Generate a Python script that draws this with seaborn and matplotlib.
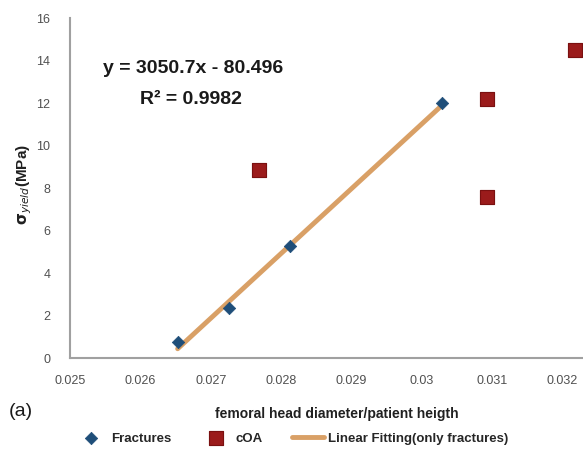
import matplotlib
matplotlib.use('Agg')
import matplotlib.pyplot as plt
import seaborn as sns
import numpy as np
import pandas as pd

# 데이터
frac_x = [0.02653, 0.02726, 0.02813, 0.03028]
frac_y = [0.75, 2.35, 5.27, 12.0]
coa_x = [0.02768, 0.03092, 0.03092, 0.03217]
coa_y = [8.85, 12.2, 7.6, 14.5]
fit_slope = 3050.7
fit_icpt = -80.496
x_ticks = [0.025, 0.026, 0.027, 0.028, 0.029, 0.03, 0.031, 0.032]
x_ticklabels = ['0.025', '0.026', '0.027', '0.028', '0.029', '0.03', '0.031', '0.032']
y_ticks = [0, 2, 4, 6, 8, 10, 12, 14, 16]

sns.set_style('white')
plt.rcParams['font.family'] = ['Liberation Sans', 'DejaVu Sans']

frac = pd.DataFrame({'x': frac_x, 'y': frac_y})
coa = pd.DataFrame({'x': coa_x, 'y': coa_y})
fx = np.array([min(frac_x), max(frac_x)])
fit = pd.DataFrame({'x': fx, 'y': fit_slope * fx + fit_icpt})

fig = plt.figure(figsize=(5.83, 4.55), dpi=100)
ax = fig.add_axes([0.12, 0.213, 0.88, 0.747])

sns.lineplot(data=fit, x='x', y='y', ax=ax, color='#d9a066', lw=3.5,
             label='Linear Fitting(only fractures)', zorder=2)
sns.scatterplot(data=frac, x='x', y='y', ax=ax, marker='D', s=40, color='#1f4e79',
                edgecolor='#1f4e79', label='Fractures', zorder=3)
sns.scatterplot(data=coa, x='x', y='y', ax=ax, marker='s', s=110, color='#9b1b1b',
                edgecolor='#7a1010', label='cOA', zorder=3)

ax.set_xlim(0.025, 0.03229)
ax.set_ylim(0, 16)
ax.set_xticks(x_ticks)
ax.set_xticklabels(x_ticklabels)
ax.set_yticks(y_ticks)
ax.tick_params(axis='both', labelsize=9, colors='#505050', length=0)
ax.tick_params(axis='x', pad=12)
ax.tick_params(axis='y', pad=14)

for s in ['top', 'right']:
    ax.spines[s].set_visible(False)
for s in ['left', 'bottom']:
    ax.spines[s].set_color('#a0a0a0')
    ax.spines[s].set_linewidth(1.5)

ax.set_xlabel('femoral head diameter/patient heigth', fontsize=10, fontweight='bold',
              color='#202020')
ax.xaxis.set_label_coords(0.52, -0.145)
ax.set_ylabel(r'$\mathbf{\sigma}_{yield}$(MPa)', fontsize=11, fontweight='bold', color='#202020')
ax.yaxis.set_label_coords(-0.07, 0.51)

ax.text(0.24, 0.853, 'y = 3050.7x - 80.496', transform=ax.transAxes, ha='center',
        va='center', fontsize=14, fontweight='bold', color='#1a1a1a')
ax.text(0.235, 0.76, 'R² = 0.9982', transform=ax.transAxes, ha='center',
        va='center', fontsize=14, fontweight='bold', color='#1a1a1a')

h, l = ax.get_legend_handles_labels()
ax.get_legend().remove()
order = [l.index('Fractures'), l.index('cOA'), l.index('Linear Fitting(only fractures)')]
fig.legend([h[i] for i in order], [l[i] for i in order], loc='center',
           bbox_to_anchor=(0.5, 0.036), ncol=3, frameon=False,
           prop={'weight': 'bold', 'size': 9.5}, handlelength=2.4, columnspacing=2.2,
           handletextpad=0.3)

fig.text(0.015, 0.085, '(a)', fontsize=14, color='#1a1a1a')

fig.savefig('out.png', dpi=100)
